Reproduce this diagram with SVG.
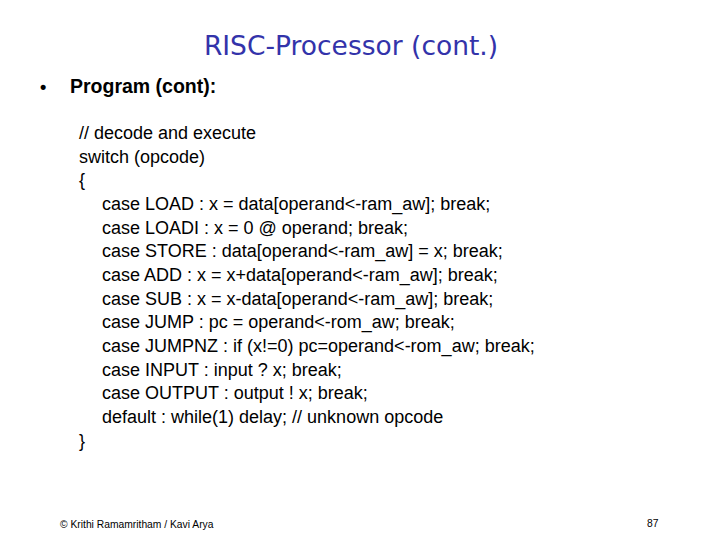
<svg xmlns="http://www.w3.org/2000/svg" width="720" height="540" viewBox="0 0 720 540">
<style>
.c{font-family:"Liberation Sans",Arial,sans-serif;font-size:18px;fill:#000}
.f{font-family:"Liberation Sans",Arial,sans-serif;font-size:10.3px;fill:#000}
</style>
<rect width="720" height="540" fill="#fff"/>
<text x="351" y="55" text-anchor="middle" font-family="'DejaVu Sans',sans-serif" font-size="26.5" fill="#3333aa">RISC-Processor (cont.)</text>
<text x="40" y="93" font-family="'Liberation Sans',Arial,sans-serif" font-size="18" font-weight="bold">•</text>
<text x="70" y="93" font-family="'Liberation Sans',Arial,sans-serif" font-size="19.5" font-weight="bold">Program (cont):</text>
<g class="c">
<text x="79" y="139" class="c">// decode and execute</text>
<text x="79" y="163" class="c">switch (opcode)</text>
<text x="79" y="186" class="c">{</text>
<text x="102" y="210" class="c">case LOAD : x = data[operand&lt;-ram_aw]; break;</text>
<text x="102" y="234" class="c">case LOADI : x = 0 @ operand; break;</text>
<text x="102" y="257" class="c">case STORE : data[operand&lt;-ram_aw] = x; break;</text>
<text x="102" y="281" class="c">case ADD : x = x+data[operand&lt;-ram_aw]; break;</text>
<text x="102" y="305" class="c">case SUB : x = x-data[operand&lt;-ram_aw]; break;</text>
<text x="102" y="328" class="c">case JUMP : pc = operand&lt;-rom_aw; break;</text>
<text x="102" y="352" class="c">case JUMPNZ : if (x!=0) pc=operand&lt;-rom_aw; break;</text>
<text x="102" y="376" class="c">case INPUT : input ? x; break;</text>
<text x="102" y="399" class="c">case OUTPUT : output ! x; break;</text>
<text x="102" y="423" class="c">default : while(1) delay; // unknown opcode</text>
<text x="79" y="447" class="c">}</text>
</g>
<text x="60" y="528" class="f">© Krithi Ramamritham / Kavi Arya</text>
<text x="647" y="527" class="f">87</text>
</svg>
